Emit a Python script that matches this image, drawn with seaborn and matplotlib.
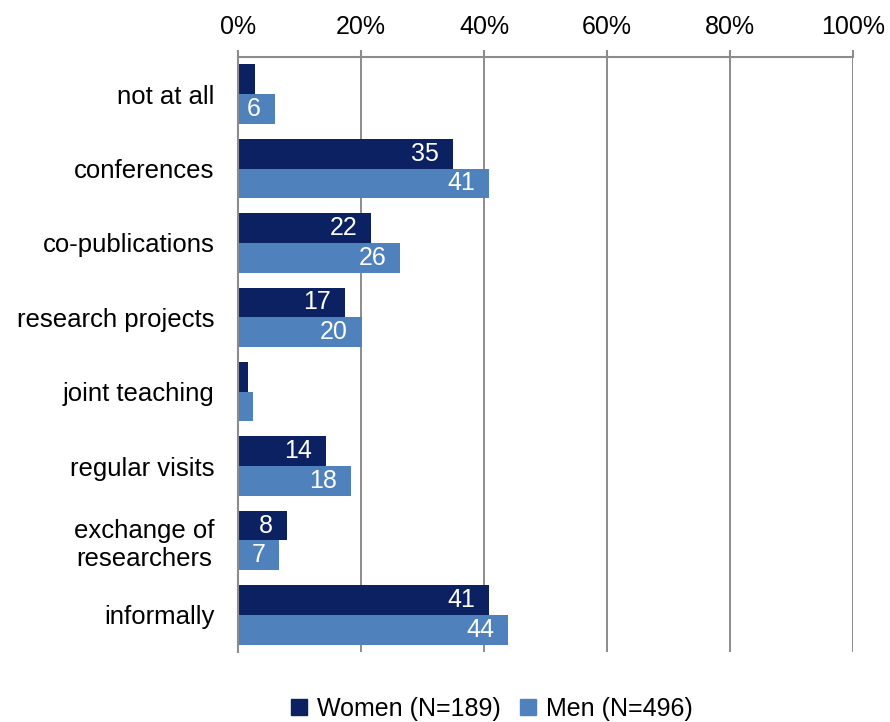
import matplotlib
matplotlib.use("Agg")
import matplotlib.pyplot as plt
from matplotlib.ticker import FixedLocator, PercentFormatter
from matplotlib.lines import Line2D
import pandas as pd
import seaborn as sns

categories = ["not at all", "conferences", "co-publications", "research projects",
              "joint teaching", "regular visits", "exchange of\nresearchers", "informally"]
women = [2.7, 35.0, 21.7, 17.4, 1.6, 14.3, 8.0, 40.8]
men = [6.0, 40.8, 26.4, 20.1, 2.4, 18.3, 6.7, 43.9]
series = ["Women (N=189)", "Men (N=496)"]
colors = ["#0B2161", "#4F81BD"]
x_ticks = [0, 20, 40, 60, 80, 100]

df = pd.DataFrame({
    "category": categories * 2,
    "group": [series[0]] * len(categories) + [series[1]] * len(categories),
    "value": women + men,
})

sns.set_style("white")
plt.rcParams["font.family"] = ["Liberation Sans", "DejaVu Sans"]
plt.rcParams["text.color"] = "black"

fig = plt.figure(figsize=(8.9, 7.22), dpi=100)
ax = fig.add_axes([0.2674, 0.097, 0.691, 0.824])

sns.barplot(data=df, x="value", y="category", hue="group", orient="h",
            palette=colors, saturation=1, width=0.8, linewidth=0, ax=ax, legend=False)

# value labels inside the bar ends (only when the bar is wide enough)
for cont in ax.containers:
    for bar in cont:
        w = bar.get_width()
        if w < 5:
            continue
        ax.annotate(f"{w:.0f}", (w, bar.get_y() + bar.get_height() / 2),
                    xytext=(-10, 0), textcoords="offset points",
                    ha="right", va="center", color="white", fontsize=18)

ax.set_xlim(0, 100)
ax.set_ylim(len(categories) - 0.5, -0.5)
ax.xaxis.tick_top()
ax.set_xticks(x_ticks)
ax.xaxis.set_major_formatter(PercentFormatter(decimals=0))
ax.tick_params(axis="x", which="major", direction="out", length=5, width=1.5,
               color="#8c8c8c", labelcolor="black", labelsize=18, pad=8)
ax.tick_params(axis="y", which="major", length=0, labelcolor="black", labelsize=18.5, pad=17)
ax.yaxis.set_minor_locator(FixedLocator([i - 0.5 for i in range(len(categories) + 1)]))
ax.tick_params(axis="y", which="minor", direction="out", length=6, width=1.5, color="#8c8c8c")
for lbl in ax.get_yticklabels():
    lbl.set_multialignment("center")

ax.set_xlabel("")
ax.set_ylabel("")
ax.grid(axis="x", color="#8c8c8c", linewidth=1.4)
ax.set_axisbelow(True)
for side in ["right", "bottom"]:
    ax.spines[side].set_visible(False)
for side in ["left", "top"]:
    ax.spines[side].set_color("#8c8c8c")
    ax.spines[side].set_linewidth(1.5)

handles = [Line2D([], [], marker="s", linestyle="", markersize=11, color=c) for c in colors]
fig.legend(handles, series, loc="lower center", bbox_to_anchor=(0.55, -0.03), ncol=2,
           frameon=False, fontsize=18, handletextpad=0.2, columnspacing=0.6, handlelength=1)

fig.savefig("out.png", dpi=100)
